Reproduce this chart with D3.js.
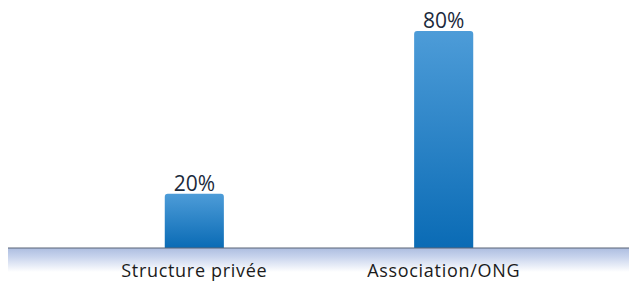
<!DOCTYPE html>
<html><head><meta charset="utf-8">
<script src="https://cdn.jsdelivr.net/npm/d3@7"></script>
<style>body{margin:0;background:#fff}svg{display:block}</style>
</head><body><svg id="c" width="629" height="282"></svg>
<script>
const categories = ["Structure privée", "Association/ONG"];
const values = [20, 80];
const valueLabels = ["20%", "80%"];

const svg = d3.select("#c");
const W = 629, H = 282, base = 248;
const x = d3.scaleBand().domain(categories).range([70, 568]).paddingInner(0.763).paddingOuter(0.38);
const y = d3.scaleLinear().domain([0, 80]).range([base, 31]);

const defs = svg.append("defs");
const g1 = defs.append("linearGradient").attr("id","bar").attr("x1",0).attr("y1",0).attr("x2",0).attr("y2",1);
g1.append("stop").attr("offset",0).attr("stop-color","#4d9cd8");
g1.append("stop").attr("offset",1).attr("stop-color","#0a6bb5");
const g2 = defs.append("linearGradient").attr("id","floor").attr("x1",0).attr("y1",0).attr("x2",0).attr("y2",1);
g2.append("stop").attr("offset",0).attr("stop-color","#adbde0");
g2.append("stop").attr("offset",0.35).attr("stop-color","#c6d2ec");
g2.append("stop").attr("offset",1).attr("stop-color","#ffffff");

svg.append("rect").attr("x",8).attr("y",base).attr("width",W-8).attr("height",24).attr("fill","url(#floor)");

svg.selectAll("path.bar").data(values).join("path").attr("class","bar")
  .attr("fill","url(#bar)")
  .attr("d",(d,i)=>{
    const x0 = x(categories[i]), w = x.bandwidth(), t = y(d), r = 3;
    return `M${x0},${base}V${t+r}Q${x0},${t} ${x0+r},${t}H${x0+w-r}Q${x0+w},${t} ${x0+w},${t+r}V${base}Z`;
  });

svg.append("line").attr("x1",8).attr("x2",W).attr("y1",base).attr("y2",base)
  .attr("stroke","#5a6476").attr("stroke-width",1.2);

svg.selectAll("text.val").data(values).join("text").attr("class","val")
  .attr("x",(d,i)=>x(categories[i])+x.bandwidth()/2).attr("y",d=>y(d)-3)
  .attr("text-anchor","middle").attr("font-family","Open Sans, sans-serif").attr("font-size",21)
  .attr("fill","#1b2a3c").text((d,i)=>valueLabels[i]);

svg.selectAll("text.cat").data(categories).join("text").attr("class","cat")
  .attr("x",d=>x(d)+x.bandwidth()/2).attr("y",277)
  .attr("text-anchor","middle").attr("font-family","Open Sans, sans-serif").attr("font-size",18)
  .attr("letter-spacing",0.7)
  .attr("fill","#1b1b1b").text(d=>d);
</script></body></html>
